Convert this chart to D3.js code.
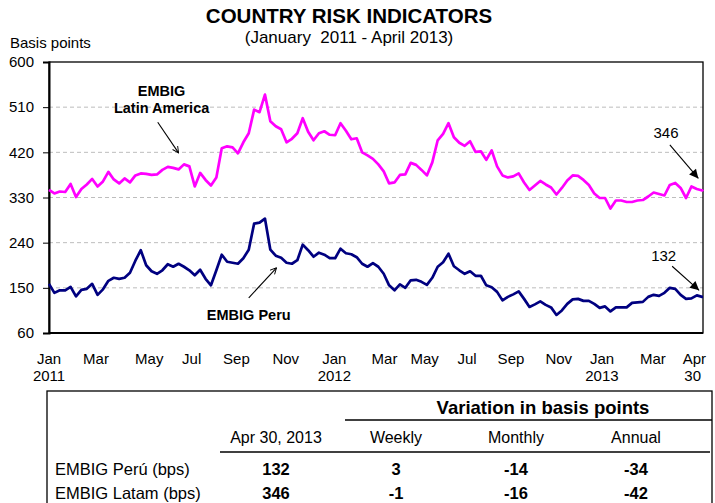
<!DOCTYPE html>
<html>
<head>
<meta charset="utf-8">
<script src="https://cdn.jsdelivr.net/npm/d3@7/dist/d3.min.js"></script>
<style>
  body { margin: 0; background: #fff; }
  svg { display: block; font-family: "Liberation Sans", Arial, sans-serif; }
</style>
</head>
<body>
<div id="chart"></div>
<script>
// weekly readings, first week starting Mon 3 Jan 2011, last value = 30 Apr 2013
const firstWeek = "2011-01-03";
const lastDay = "2013-04-30";

const latam = [
  345, 338, 342, 341, 357, 331, 347, 356, 367, 352,
  362, 381, 366, 358, 368, 360, 374, 378, 377, 375,
  376, 385, 391, 389, 386, 396, 392, 352, 379, 365,
  354, 370, 428, 432, 430, 418, 440, 458, 505, 500,
  535, 482, 472, 466, 440, 447, 458, 488, 461, 444,
  458, 462, 455, 454, 478, 463, 446, 448, 420, 414,
  407, 396, 382, 358, 360, 375, 376, 399, 395, 385,
  374, 400, 444, 457, 478, 450, 439, 433, 442, 421,
  422, 405, 424, 392, 374, 370, 372, 378, 360, 345,
  354, 363, 356, 350, 336, 349, 364, 374, 373, 365,
  355, 338, 329, 329, 308, 324, 324, 321, 321, 324,
  325, 332, 340, 337, 334, 355, 359, 349, 329, 352,
  347, 344, 346
];

const peru = [
  158, 140, 145, 145, 152, 133, 146, 148, 158, 136,
  147, 164, 170, 168, 170, 180, 204, 225, 195, 183,
  178, 185, 197, 192, 198, 192, 185, 175, 186, 168,
  155, 185, 216, 202, 200, 198, 209, 226, 278, 280,
  288, 226, 214, 210, 200, 198, 205, 236, 225, 212,
  220, 216, 209, 209, 228, 219, 217, 211, 198, 192,
  199, 192, 178, 155, 145, 157, 150, 165, 166, 162,
  156, 170, 192, 201, 218, 193, 185, 178, 183, 174,
  174, 155, 151, 142, 125, 132, 137, 143, 128, 112,
  117, 123, 116, 111, 96, 105, 118, 127, 128, 124,
  124, 118, 110, 113, 103, 111, 111, 111, 120, 121,
  122, 132, 136, 134, 140, 150, 148, 136, 128, 129,
  135, 132, 132
];

const yTicks = [60, 150, 240, 330, 420, 510, 600];

// label dates as placed on the original (not exactly month starts there)
const monthTicks = [
  ["2011-01-03", "Jan", "2011"], ["2011-03-05", "Mar", ""], ["2011-05-13", "May", ""],
  ["2011-07-07", "Jul", ""], ["2011-09-03", "Sep", ""], ["2011-11-06", "Nov", ""],
  ["2012-01-08", "Jan", "2012"], ["2012-03-13", "Mar", ""], ["2012-05-04", "May", ""],
  ["2012-06-28", "Jul", ""], ["2012-08-24", "Sep", ""], ["2012-10-25", "Nov", ""],
  ["2012-12-20", "Jan", "2013"], ["2013-02-24", "Mar", ""], ["2013-04-30", "Apr", "30"]
];

// table
const tableCols = ["Apr 30, 2013", "Weekly", "Monthly", "Annual"];
const rowLabels = ["EMBIG Perú (bps)", "EMBIG Latam (bps)"];
const tableValues = [[132, 3, -14, -34], [346, -1, -16, -42]];

const W = 715, H = 503;
const margin = {top: 62, left: 49, right: 12, bottom: 170};
const parse = d3.timeParse("%Y-%m-%d");

const start = parse(firstWeek);
const dates = latam.map((d, i) => i < latam.length - 1 ? d3.timeDay.offset(start, 7 * i) : parse(lastDay));

const svg = d3.select("#chart").append("svg")
    .attr("width", W)
    .attr("height", H);

const x = d3.scaleTime()
    .domain([start, parse(lastDay)])
    .range([margin.left, W - margin.right]);

const y = d3.scaleLinear()
    .domain([60, 600])
    .range([H - margin.bottom, margin.top]);

// title
svg.append("text")
    .attr("x", 349).attr("y", 23)
    .attr("text-anchor", "middle")
    .style("font-size", "20.5px").style("font-weight", "bold")
    .text("COUNTRY RISK INDICATORS");

svg.append("text")
    .attr("x", 349).attr("y", 43)
    .attr("text-anchor", "middle")
    .style("font-size", "17px")
    .attr("xml:space", "preserve")
    .text("(January  2011 - April 2013)");

svg.append("text")
    .attr("x", 10).attr("y", 48)
    .style("font-size", "15px")
    .text("Basis points");

// grid
svg.append("g")
    .selectAll("line")
    .data(yTicks.filter(d => d > 60 && d < 600))
    .enter()
    .append("line")
    .attr("x1", x.range()[0]).attr("x2", x.range()[1])
    .attr("y1", d => y(d)).attr("y2", d => y(d))
    .attr("stroke", "#bdbdbd")
    .attr("stroke-dasharray", "4,3");

// frame
svg.append("rect")
    .attr("x", x.range()[0]).attr("y", y.range()[1])
    .attr("width", x.range()[1] - x.range()[0])
    .attr("height", y.range()[0] - y.range()[1])
    .attr("fill", "none").attr("stroke", "#000").attr("stroke-width", 1.3);

const yAxis = svg.append("g")
    .attr("transform", `translate(${x.range()[0]},0)`)
    .call(d3.axisLeft(y).tickValues(yTicks).tickSize(6).tickPadding(9));
yAxis.select(".domain").attr("stroke-width", 2);
yAxis.selectAll("text").style("font-size", "15px").style("font-family", "inherit").attr("fill", "#000");

svg.append("line")
    .attr("x1", x.range()[0]).attr("x2", x.range()[1])
    .attr("y1", y.range()[0]).attr("y2", y.range()[0])
    .attr("stroke", "#000").attr("stroke-width", 2);

// x labels
const xl = svg.append("g")
    .selectAll("text")
    .data(monthTicks)
    .enter()
    .append("text")
    .attr("transform", d => `translate(${x(parse(d[0]))},0)`)
    .attr("text-anchor", (d, i) => i === monthTicks.length - 1 ? "end" : "middle")
    .style("font-size", "15px");
xl.append("tspan").attr("x", (d, i) => i === monthTicks.length - 1 ? 3 : 0).attr("y", 364).text(d => d[1]);
xl.append("tspan").attr("x", (d, i) => i === monthTicks.length - 1 ? -2 : 0).attr("y", 381).text(d => d[2]);

// lines
const line = d3.line()
    .x((d, i) => x(dates[i]))
    .y(d => y(d))
    .curve(d3.curveLinear);

svg.append("path")
    .datum(latam)
    .attr("d", line)
    .attr("fill", "none")
    .attr("stroke", "#ff00ff")
    .attr("stroke-width", 2.7)
    .attr("stroke-linejoin", "round");

svg.append("path")
    .datum(peru)
    .attr("d", line)
    .attr("fill", "none")
    .attr("stroke", "#000080")
    .attr("stroke-width", 2.7)
    .attr("stroke-linejoin", "round");

// arrow heads
const defs = svg.append("defs");
defs.append("marker")
    .attr("id", "open").attr("viewBox", "0 0 10 10")
    .attr("refX", 9).attr("refY", 5)
    .attr("markerWidth", 7).attr("markerHeight", 7)
    .attr("orient", "auto")
    .append("path").attr("d", "M1,1 L9,5 L1,9").attr("fill", "none").attr("stroke", "#000").attr("stroke-width", 1.2);
defs.append("marker")
    .attr("id", "solid").attr("viewBox", "0 0 10 10")
    .attr("refX", 10).attr("refY", 5)
    .attr("markerWidth", 10).attr("markerHeight", 9)
    .attr("markerUnits", "userSpaceOnUse")
    .attr("orient", "auto")
    .append("path").attr("d", "M0,0 L10,5 L0,10 Z").attr("fill", "#000");

// annotations (date, value)
const notes = [
  {lines: ["EMBIG", "Latin America"], at: ["2011-05-29", 532], bold: true,
   arrow: [["2011-05-24", 480], ["2011-06-20", 419]], head: "open"},
  {lines: ["EMBIG Peru"], at: ["2011-09-19", 86], bold: true,
   arrow: [["2011-09-19", 130], ["2011-10-25", 190]], head: "open"},
  {lines: ["346"], at: ["2013-03-13", 449], bold: false,
   arrow: [["2013-03-18", 435], ["2013-04-24", 368]], head: "solid"},
  {lines: ["132"], at: ["2013-03-10", 203], bold: false,
   arrow: [["2013-03-21", 193], ["2013-04-25", 145]], head: "solid"}
];

notes.forEach(n => {
  const t = svg.append("text")
      .attr("text-anchor", "middle")
      .style("font-size", n.bold ? "14.5px" : "15px")
      .style("font-weight", n.bold ? "bold" : "normal");
  n.lines.forEach((s, i) => {
    t.append("tspan")
        .attr("x", x(parse(n.at[0])))
        .attr("y", y(n.at[1]) + i * 17)
        .text(s);
  });
  svg.append("line")
      .attr("x1", x(parse(n.arrow[0][0]))).attr("y1", y(n.arrow[0][1]))
      .attr("x2", x(parse(n.arrow[1][0]))).attr("y2", y(n.arrow[1][1]))
      .attr("stroke", "#000").attr("stroke-width", 1.1)
      .attr("marker-end", `url(#${n.head})`);
});

// table
const tb = svg.append("g");
tb.append("rect")
    .attr("x", 47).attr("y", 391).attr("width", 665).attr("height", 140)
    .attr("fill", "none").attr("stroke", "#000").attr("stroke-width", 1.3);

const col = d3.scalePoint().domain(tableCols).range([276, 636]);

tb.append("text")
    .attr("x", 543).attr("y", 414)
    .attr("text-anchor", "middle")
    .style("font-size", "18.5px").style("font-weight", "bold")
    .text("Variation in basis points");
tb.append("line").attr("x1", 345).attr("x2", 712).attr("y1", 420).attr("y2", 420)
    .attr("stroke", "#000").attr("stroke-width", 1.5);

tb.selectAll(".hdr")
    .data(tableCols)
    .enter()
    .append("text")
    .attr("x", d => col(d)).attr("y", 443)
    .attr("text-anchor", "middle")
    .style("font-size", "16px")
    .text(d => d);
tb.append("line").attr("x1", 220).attr("x2", 710).attr("y1", 452).attr("y2", 452)
    .attr("stroke", "#000").attr("stroke-width", 1.5);

rowLabels.forEach((r, ri) => {
  const yy = 475 + ri * 24;
  tb.append("text").attr("x", 55).attr("y", yy)
      .style("font-size", "16.5px").text(r);
  tb.selectAll(".v" + ri)
      .data(tableValues[ri])
      .enter()
      .append("text")
      .attr("x", (d, i) => col(tableCols[i])).attr("y", yy)
      .attr("text-anchor", "middle")
      .style("font-size", "16.5px").style("font-weight", "bold")
      .text(d => d);
});
</script>
</body>
</html>
